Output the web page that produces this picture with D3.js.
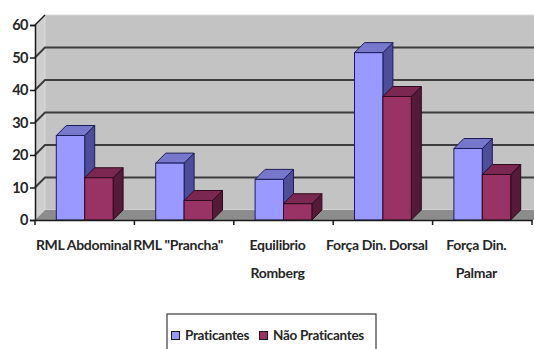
<!DOCTYPE html>
<html>
<head>
<meta charset="utf-8">
<script src="https://cdn.jsdelivr.net/npm/d3@7"></script>
<style>
  html, body { margin: 0; padding: 0; background: #ffffff; }
  svg { display: block; }
  text { font-family: Lato, "Open Sans", Arial, sans-serif; font-weight: bold; fill: #262626; }
</style>
</head>
<body>
<svg id="chart" width="534" height="349"></svg>
<script>
// Categories (label lines) and series values
const categories = ["RML Abdominal", "RML \"Prancha\"", "Equilibrio Romberg", "Força Din. Dorsal", "Força Din. Palmar"];
const categoryLines = [["RML Abdominal"], ["RML \"Prancha\""], ["Equilibrio", "Romberg"], ["Força Din. Dorsal"], ["Força Din.", "Palmar"]];
const seriesNames = ["Praticantes", "Não Praticantes"];
const praticantes = [26, 17.5, 12.5, 51.5, 22];
const naoPraticantes = [13, 6, 5, 38, 14];
const yTicks = [0, 10, 20, 30, 40, 50, 60];

const palette = {
  "Praticantes": { front: "#9999ff", top: "#7777cc", side: "#4d4d99", stroke: "#1c1c5a" },
  "Não Praticantes": { front: "#993366", top: "#7a2851", side: "#541a38", stroke: "#2e0a1c" }
};

const svg = d3.select("#chart");
const depth = { dx: 10, dy: -10 };

const x0 = d3.scaleBand().domain(categories).range([35, 532]).paddingInner(0).paddingOuter(0);
const x1 = d3.scaleBand().domain(seriesNames).range([0, x0.bandwidth()]).paddingInner(0).paddingOuter(0.75);
const y = d3.scaleLinear().domain([0, 60]).range([220, 25]);

const xL = x0.range()[0], xR = 540;
const y0 = y(0), yTop = y(60);

// Side wall (left), back wall and floor
svg.append("path")
  .attr("d", `M${xL},${y0} L${xL},${yTop} L${xL + depth.dx},${yTop + depth.dy} L${xL + depth.dx},${y0 + depth.dy} Z`)
  .attr("fill", "#cfcfcf");
svg.append("rect")
  .attr("x", xL + depth.dx).attr("y", yTop + depth.dy)
  .attr("width", xR - xL).attr("height", y0 - yTop)
  .attr("fill", "#c3c3c3").attr("stroke", "#dcdcdc").attr("stroke-width", 1);
svg.append("path")
  .attr("d", `M${xL},${y0} L${xL + depth.dx},${y0 + depth.dy} L${xR + depth.dx},${y0 + depth.dy} L${xR},${y0} Z`)
  .attr("fill", "#8c8c8c");

// Gridlines on the walls
const grid = svg.append("g").attr("stroke", "#3c3c3c").attr("stroke-width", 2).attr("fill", "none");
yTicks.filter(t => t > 0 && t < 60).forEach(t => {
  grid.append("path")
    .attr("d", `M${xL},${y(t)} L${xL + depth.dx},${y(t) + depth.dy} L${xR + depth.dx},${y(t) + depth.dy}`);
});

// 3D bars
const bars = svg.append("g");
categories.forEach((c, i) => {
  [[seriesNames[0], praticantes[i]], [seriesNames[1], naoPraticantes[i]]].forEach(([s, v]) => {
    const col = palette[s];
    const bx = x0(c) + x1(s), bw = x1.bandwidth();
    const by = y(v);
    const g = bars.append("g").attr("stroke", col.stroke).attr("stroke-width", 1).attr("stroke-linejoin", "round");
    g.append("path")
      .attr("d", `M${bx + bw},${y0} L${bx + bw + depth.dx},${y0 + depth.dy} L${bx + bw + depth.dx},${by + depth.dy} L${bx + bw},${by} Z`)
      .attr("fill", col.side);
    g.append("path")
      .attr("d", `M${bx},${by} L${bx + depth.dx},${by + depth.dy} L${bx + bw + depth.dx},${by + depth.dy} L${bx + bw},${by} Z`)
      .attr("fill", col.top);
    g.append("rect")
      .attr("x", bx).attr("y", by).attr("width", bw).attr("height", y0 - by)
      .attr("fill", col.front);
  });
});

// Value axis
const yAxis = svg.append("g").attr("transform", `translate(${xL},0)`)
  .call(d3.axisLeft(y).tickValues(yTicks).tickSize(5).tickPadding(2));
yAxis.select(".domain").attr("stroke", "#1a1a1a").attr("stroke-width", 1.5);
yAxis.selectAll(".tick line").attr("stroke", "#1a1a1a").attr("stroke-width", 1.5);
yAxis.selectAll(".tick text").attr("font-size", 14.5).attr("font-family", "Lato, sans-serif").attr("font-weight", "bold").attr("fill", "#262626").attr("letter-spacing", -0.5);
svg.append("line")
  .attr("x1", xL).attr("y1", yTop).attr("x2", xL + depth.dx).attr("y2", yTop + depth.dy)
  .attr("stroke", "#1a1a1a").attr("stroke-width", 1.5);

// Category axis
const xAxis = svg.append("g").attr("transform", `translate(0,${y0})`)
  .call(d3.axisBottom(x0).tickSize(0).tickFormat(""));
xAxis.select(".domain").attr("stroke", "#1a1a1a").attr("stroke-width", 1.5);
svg.append("g").selectAll("line")
  .data(categories.map(c => x0(c)).concat([x0.range()[1]]))
  .join("line")
  .attr("x1", d => d).attr("x2", d => d)
  .attr("y1", y0).attr("y2", y0 + 5)
  .attr("stroke", "#1a1a1a").attr("stroke-width", 1.5);

const labels = svg.append("g").attr("font-size", 14).attr("text-anchor", "middle").attr("letter-spacing", -0.3);
categories.forEach((c, i) => {
  const cx = x0(c) + x0.bandwidth() / 2 - (i === 0 ? 1 : 6);
  const t = labels.append("text").attr("x", cx).attr("y", y0 + 30);
  categoryLines[i].forEach((line, j) => {
    t.append("tspan").attr("x", cx).attr("dy", j === 0 ? 0 : 28).text(line);
  });
});

// Legend
const legend = svg.append("g").attr("transform", "translate(167,314)");
legend.append("rect").attr("width", 209).attr("height", 45)
  .attr("fill", "#ffffff").attr("stroke", "#3a3a3a").attr("stroke-width", 1.2);
const legendX = [4, 92];
seriesNames.forEach((s, i) => {
  legend.append("rect")
    .attr("x", legendX[i] + 0.5).attr("y", 17.5).attr("width", 8).attr("height", 8)
    .attr("fill", palette[s].front).attr("stroke", "#1a1a1a").attr("stroke-width", 1);
  legend.append("text")
    .attr("x", legendX[i] + 14).attr("y", 26)
    .attr("font-size", 13.5).attr("letter-spacing", -0.3).text(s);
});
</script>
</body>
</html>
